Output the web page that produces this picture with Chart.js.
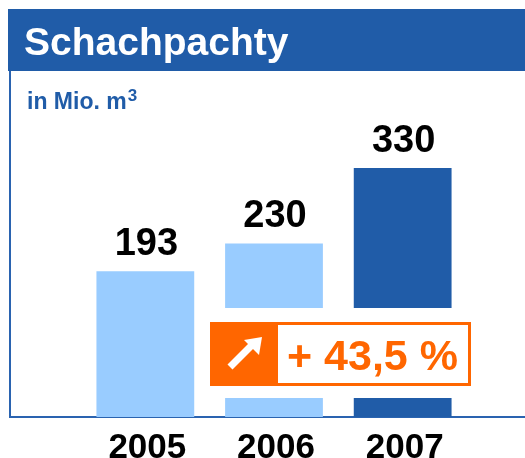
<!DOCTYPE html>
<html>
<head>
<meta charset="utf-8">
<script src="https://cdn.jsdelivr.net/npm/chart.js@4.4.1/dist/chart.umd.min.js"></script>
<style>
  html, body { margin: 0; padding: 0; background: #fff; }
  #wrap { width: 525px; height: 458px; position: relative; }
</style>
</head>
<body>
<div id="wrap"><canvas id="chart"></canvas></div>
<script>
// chart data
const years = ['2005', '2006', '2007'];
const values = [193, 230, 330];
const chartTitle = 'Schachpachty';
const unitLabel = 'in Mio. m';
const unitExponent = '3';
const changeLabel = '+ 43,5 %';

const blue = '#205ca8';
const lightBlue = '#99ccff';
const orange = '#ff6600';
const font = '"Liberation Sans", Arial, sans-serif';

// draws the frame, title bar, value labels, years and the change badge
const decorPlugin = {
  id: 'decor',
  beforeDatasetsDraw(chart) {
    const ctx = chart.ctx;
    ctx.save();
    // title bar
    ctx.fillStyle = blue;
    ctx.fillRect(8, 9, 517, 62);
    ctx.fillStyle = '#fff';
    ctx.font = 'bold 39px ' + font;
    ctx.textBaseline = 'alphabetic';
    ctx.textAlign = 'left';
    ctx.fillText(chartTitle, 24, 55);
    // unit with superscript
    ctx.fillStyle = blue;
    ctx.font = 'bold 23px ' + font;
    ctx.fillText(unitLabel, 27, 109);
    const w = ctx.measureText(unitLabel).width;
    ctx.font = 'bold 17px ' + font;
    ctx.fillText(unitExponent, 27 + w + 1, 101);
    // frame lines
    ctx.strokeStyle = '#2a63b0';
    ctx.lineWidth = 2;
    ctx.beginPath();
    ctx.moveTo(10, 71);
    ctx.lineTo(10, 417);
    ctx.lineTo(525, 417);
    ctx.stroke();
    ctx.restore();
  },
  afterDatasetsDraw(chart) {
    const ctx = chart.ctx;
    const meta = chart.getDatasetMeta(0);
    const xScale = chart.scales.x;
    ctx.save();
    // value labels above bars
    ctx.fillStyle = '#000';
    ctx.font = 'bold 38px ' + font;
    ctx.textAlign = 'center';
    ctx.textBaseline = 'alphabetic';
    meta.data.forEach((bar, i) => {
      ctx.fillText(String(values[i]), bar.x + 1, bar.y - 16);
    });
    // year labels
    ctx.font = 'bold 35px ' + font;
    years.forEach((y, i) => {
      ctx.fillText(y, xScale.getPixelForValue(i) + 2, 458);
    });

    // change badge with white backing
    ctx.fillStyle = '#fff';
    ctx.fillRect(200, 308, 281, 90);
    ctx.fillStyle = orange;
    ctx.fillRect(210, 322, 261, 64);
    ctx.fillStyle = '#fff';
    ctx.fillRect(278, 325, 190, 58);
    // arrow
    ctx.fillStyle = '#fff';
    ctx.strokeStyle = '#fff';
    ctx.lineWidth = 7;
    ctx.beginPath();
    ctx.moveTo(230, 367);
    ctx.lineTo(252, 345);
    ctx.stroke();
    ctx.beginPath();
    ctx.moveTo(262, 337);
    ctx.lineTo(244, 340);
    ctx.lineTo(259, 355);
    ctx.closePath();
    ctx.fill();
    // change text
    ctx.fillStyle = orange;
    ctx.font = 'bold 43px ' + font;
    ctx.textAlign = 'left';
    ctx.fillText(changeLabel, 287, 370);
    ctx.restore();
  }
};

new Chart(document.getElementById('chart'), {
  type: 'bar',
  data: {
    labels: years,
    datasets: [{
      data: values,
      backgroundColor: [lightBlue, lightBlue, blue],
      borderWidth: 0,
      barPercentage: 0.76,
      categoryPercentage: 1
    }]
  },
  options: {
    responsive: true,
    maintainAspectRatio: false,
    animation: false,
    layout: {
      padding: { left: 81, right: 58, top: 100, bottom: 41 }
    },
    scales: {
      x: { display: false },
      y: { display: false, min: 0, max: 420 }
    },
    plugins: {
      legend: { display: false },
      tooltip: { enabled: false }
    }
  },
  plugins: [decorPlugin]
});
</script>
</body>
</html>
